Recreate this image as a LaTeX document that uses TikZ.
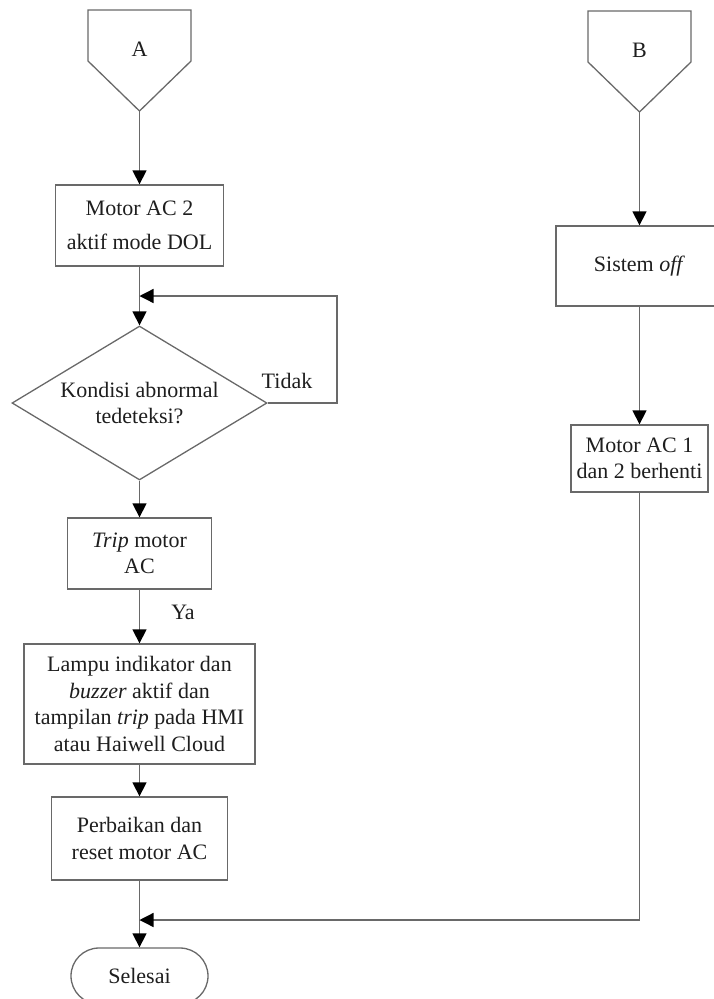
\documentclass[tikz,border=0pt]{standalone}
\usepackage{fontspec}
\setmainfont{Liberation Serif}
\usetikzlibrary{arrows.meta,shapes.geometric,shapes.misc}

\definecolor{linegray}{RGB}{105,105,105}
\definecolor{textdark}{RGB}{30,30,30}

\tikzset{
  flowline/.style={draw=linegray, line width=1.3pt},
  arrowline/.style={flowline, -{Triangle[length=14pt,width=14pt,black]}},
  basefont/.style={text=textdark, font=\fontsize{22}{26.5}\selectfont},
  procbox/.style={basefont, draw=linegray, line width=1.3pt, rectangle,
    inner sep=0pt, align=center},
  decision/.style={basefont, draw=linegray, line width=1.3pt, diamond,
    aspect=1.656, minimum width=255pt, minimum height=154pt,
    inner sep=0pt, align=center},
  terminal/.style={basefont, draw=linegray, line width=1.3pt,
    rounded rectangle, inner sep=0pt, minimum width=137pt, minimum height=56pt},
  lbl/.style={basefont, inner sep=0pt}
}

\begin{document}
\begin{tikzpicture}[x=1pt,y=-1pt]
  \useasboundingbox (0,0) rectangle (714,999);

  % off-page connector A
  \coordinate (Atip) at (139.5,111);
  \draw[flowline] (88,10) -- (191,10) -- (191,61) -- (Atip) -- (88,61) -- cycle;
  \node[lbl] (Alab) at (139.5,49) {A};

  % off-page connector B
  \coordinate (Btip) at (639.5,112);
  \draw[flowline] (588,11) -- (691,11) -- (691,62) -- (Btip) -- (588,62) -- cycle;
  \node[lbl] (Blab) at (639.5,50) {B};

  % left branch
  \node[procbox, minimum width=168pt, minimum height=81pt,
        font=\fontsize{22}{34}\selectfont] (m2) at (139.5,225.5)
        {Motor AC 2\\aktif mode DOL};
  \node[decision] (d) at (139.5,403) {Kondisi abnormal\\tedeteksi?};
  \node[lbl] (tidak) at (287,381) {Tidak};
  \node[procbox, minimum width=144pt, minimum height=71pt] (trip) at (139.5,553.5)
        {\textit{Trip} motor\\AC};
  \node[lbl] (ya) at (183,612) {Ya};
  \node[procbox, minimum width=231pt, minimum height=120pt] (lampu) at (139.5,704)
        {Lampu indikator dan\\\textit{buzzer} aktif dan\\tampilan \textit{trip} pada HMI\\atau Haiwell Cloud};
  \node[procbox, minimum width=176pt, minimum height=83pt] (fix) at (139.5,838.5)
        {Perbaikan dan\\reset motor AC};
  \node[terminal] (end) at (139.5,976) {Selesai};

  % right branch
  \node[procbox, minimum width=167pt, minimum height=80pt] (off) at (639.5,266)
        {Sistem \textit{off}};
  \node[procbox, minimum width=137pt, minimum height=67pt] (m1) at (639.5,458.5)
        {Motor AC 1\\dan 2 berhenti};

  % connectors
  \coordinate (fb) at (139.5,296);
  \coordinate (loopR) at (337,296);
  \coordinate (mrg) at (139.5,920);

  \draw[arrowline] (Atip) -- (m2.north);
  \draw[arrowline] (m2.south) -- (d.north);
  \draw[arrowline] (d.east) -| (loopR) -- (fb);
  \draw[arrowline] (d.south) -- (trip.north);
  \draw[arrowline] (trip.south) -- (lampu.north);
  \draw[arrowline] (lampu.south) -- (fix.north);
  \draw[arrowline] (fix.south) -- (end.north);

  \draw[arrowline] (Btip) -- (off.north);
  \draw[arrowline] (off.south) -- (m1.north);
  \draw[arrowline] (m1.south) |- (mrg);
\end{tikzpicture}
\end{document}
